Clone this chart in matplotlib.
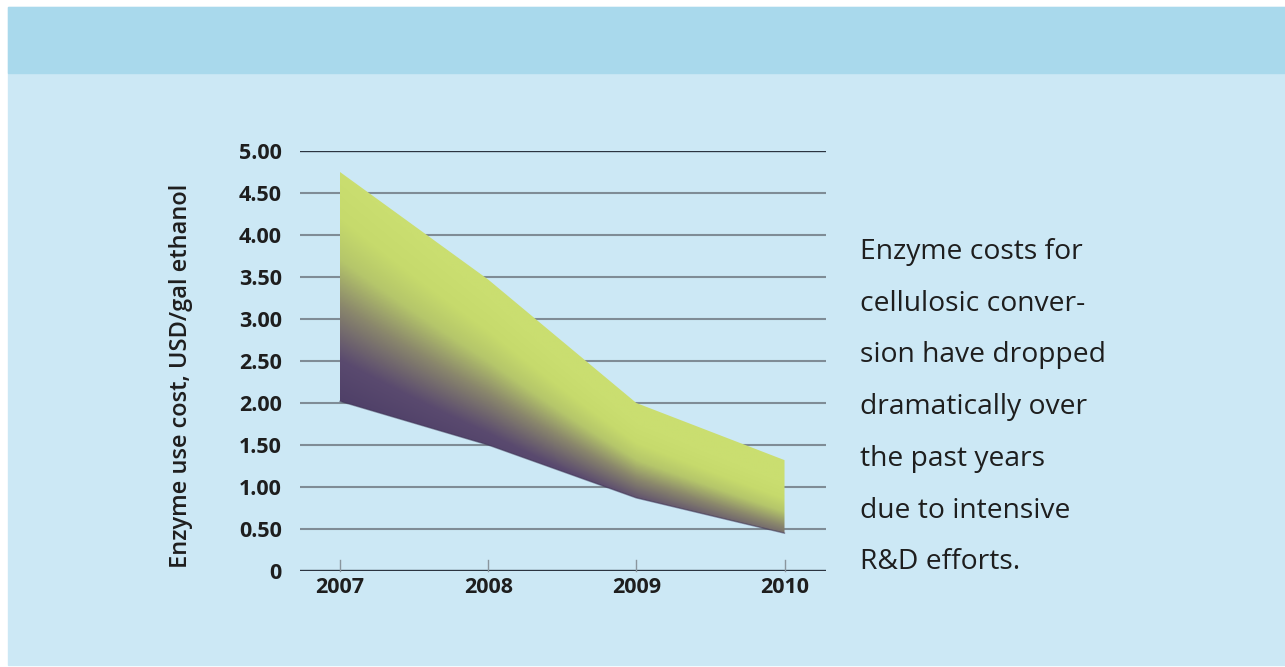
import numpy as np
import matplotlib
matplotlib.use("Agg")
import matplotlib.pyplot as plt
from matplotlib.colors import LinearSegmentedColormap
from matplotlib.patches import Rectangle

# enzyme use cost range, USD per gallon of ethanol
years = [2007, 2008, 2009, 2010]
cost_high = [4.75, 3.47, 2.00, 1.32]
cost_low = [2.02, 1.50, 0.87, 0.45]

y_ticks = [0, 0.5, 1.0, 1.5, 2.0, 2.5, 3.0, 3.5, 4.0, 4.5, 5.0]
y_labels = ["0", "0.50", "1.00", "1.50", "2.00", "2.50", "3.00", "3.50", "4.00", "4.50", "5.00"]

note_lines = ["Enzyme costs for", "cellulosic conver-", "sion have dropped",
              "dramatically over", "the past years", "due to intensive", "R&D efforts."]

W, H = 1285, 667
fig = plt.figure(figsize=(W / 100, H / 100), dpi=100)
fig.patch.set_facecolor("white")

# page background: pale blue panel with a darker strip on top
bg = fig.add_axes([0, 0, 1, 1])
bg.set_xlim(0, W)
bg.set_ylim(H, 0)
bg.axis("off")
bg.add_patch(Rectangle((8, 7), W - 8, 658, color="#cce8f5", zorder=0))
bg.add_patch(Rectangle((8, 7), W - 8, 66, color="#a9d9ec", zorder=1))

# plot area in pixel terms
left, right, top, bottom = 300, 826, 151, 571
ax = fig.add_axes([left / W, 1 - bottom / H, (right - left) / W, (bottom - top) / H])
ax.set_facecolor("none")
ax.set_xlim(2006.73, 2010.28)
ax.set_ylim(0, 5)
for s in ax.spines.values():
    s.set_visible(False)

for v in y_ticks:
    if v in (0, 5):
        ax.axhline(v, color="#2b3440", lw=1.7, zorder=1)
    else:
        ax.axhline(v, color="#7f8c96", lw=1.5, zorder=1)

# small ticks standing up from the base line
for yr in years:
    ax.plot([yr, yr], [0, 0.13], color="#8a969e", lw=1.0, zorder=1, clip_on=False)

# gradient band between low and high estimates
cmap = LinearSegmentedColormap.from_list(
    "band", [(0.0, "#4f4068"), (0.18, "#5a4a6f"), (0.42, "#8a876c"),
             (0.62, "#b5c66a"), (0.8, "#c6da6c"), (1.0, "#cade70")])
gx = np.linspace(years[0], years[-1], 400)
gy = np.linspace(0, 5, 400)
XX, YY = np.meshgrid(gx, gy)
lo = np.interp(XX, years, cost_low)
hi = np.interp(XX, years, cost_high)
frac = (YY - lo) / (hi - lo)
t = np.clip(frac + 0.33 * (XX - years[0]) / (years[-1] - years[0]), 0, 1)
band = ax.fill_between(years, cost_low, cost_high, facecolor="none", edgecolor="none", zorder=2)
img = ax.imshow(t, cmap=cmap, vmin=0, vmax=1, origin="lower", aspect="auto",
                extent=[years[0], years[-1], 0, 5], zorder=2, interpolation="bilinear")
img.set_clip_path(band.get_paths()[0], transform=ax.transData)
ax.plot(years, cost_low, color="#3a3050", lw=1.0, alpha=0.5, zorder=3)

ax.set_xticks(years)
ax.set_xticklabels([str(y) for y in years])
ax.set_yticks(y_ticks)
ax.set_yticklabels(y_labels)
ax.tick_params(axis="both", length=0, colors="#1e1e1e")
ax.tick_params(axis="y", pad=13)
ax.tick_params(axis="x", pad=4)
for lab in ax.get_xticklabels() + ax.get_yticklabels():
    lab.set_fontfamily("Open Sans")
    lab.set_fontweight("bold")
    lab.set_fontsize(15.5)

fig.text(181 / W, 1 - 376 / H, "Enzyme use cost, USD/gal ethanol", rotation=90,
         ha="center", va="center", fontsize=17, fontweight="semibold",
         family="Open Sans", color="#1e1e1e")

for i, line in enumerate(note_lines):
    fig.text(860 / W, 1 - (252 + i * 51.7) / H, line, ha="left", va="center",
             fontsize=20.3, family="Open Sans", color="#1e1e1e")

fig.savefig("out.png", dpi=100, facecolor=fig.get_facecolor())
